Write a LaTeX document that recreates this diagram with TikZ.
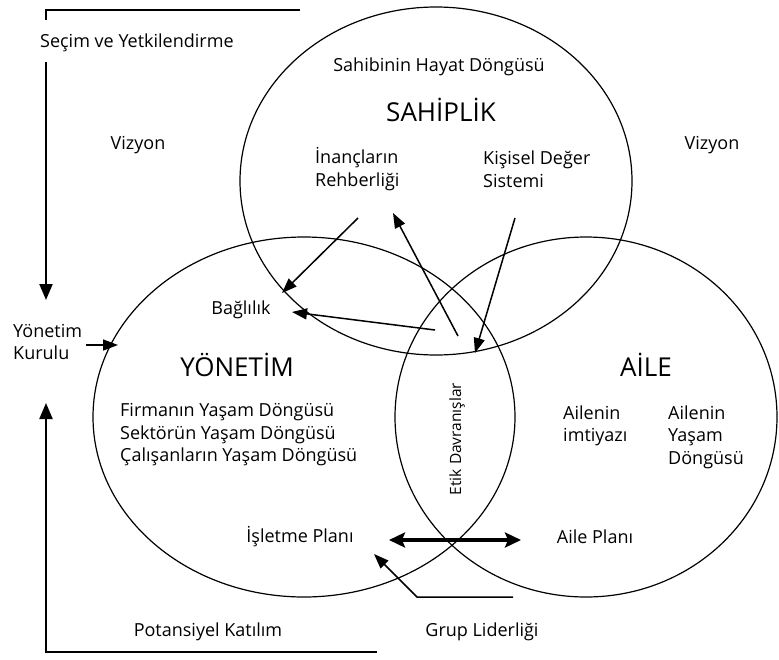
\documentclass[tikz,border=0pt]{standalone}
\usepackage{fontspec}
\setmainfont{Open Sans}
\usetikzlibrary{arrows.meta}

\begin{document}
\begin{tikzpicture}[x=1pt,y=1pt,yscale=-1,
    lbl/.style={font=\fontsize{18}{22.5}\selectfont, inner sep=0pt},
    title/.style={font=\fontsize{26}{28}\selectfont, inner sep=0pt},
    ring/.style={line width=1.2pt},
    frame/.style={line width=2.2pt, -{Triangle[length=16pt,width=13pt,fill=black]}},
    link/.style={line width=1.5pt, -{Triangle[length=15pt,width=11pt,fill=black]}},
    both/.style={line width=4pt, {Stealth[length=16pt,width=15pt,inset=3pt,fill=black]}-{Stealth[length=16pt,width=15pt,inset=3pt,fill=black]}}]
	\useasboundingbox (0,0) rectangle (779,659);

	\draw[ring] (436,181) ellipse [x radius=196, y radius=174];
	\draw[ring] (304,417) ellipse [x radius=211, y radius=180];
	\draw[ring] (586,417) ellipse [x radius=191, y radius=180];

	\node[lbl, anchor=west] (secim) at (40,43) {Seçim ve Yetkilendirme};
	\node[lbl] (vizyon L) at (138,145) {Vizyon};
	\node[lbl] (vizyon R) at (712,145) {Vizyon};
	\node[lbl] (hayat) at (439,67) {Sahibinin Hayat Döngüsü};
	\node[title] (sahiplik) at (441,110) {SAHİPLİK};
	\node[lbl, anchor=west, align=left] (inanc) at (315,169) {İnançların\\Rehberliği};
	\node[lbl, anchor=west, align=left] (kisisel) at (483,169) {Kişisel Değer\\Sistemi};
	\node[lbl] (baglilik) at (241,310) {Bağlılık};
	\node[lbl, anchor=west, align=left] (kurul) at (13,342) {Yönetim\\Kurulu};
	\node[title] (yonetim) at (237,365) {YÖNETİM};
	\node[lbl, anchor=west, align=left] (firma) at (120,435) {Firmanın Yaşam Döngüsü\\Sektörün Yaşam Döngüsü\\Çalışanların Yaşam Döngüsü};
	\node[title] (aile) at (646,365) {AİLE};
	\node[lbl, anchor=west, align=left] (imtiyaz) at (563,426) {Ailenin\\imtiyazı};
	\node[lbl, anchor=west, align=left] (aile dongu) at (668,437) {Ailenin\\Yaşam\\Döngüsü};
	\node[lbl, font=\fontsize{15.5}{18}\selectfont, rotate=90] (etik) at (457,439) {Etik Davranışlar};
	\node[lbl] (isletme) at (300,537) {İşletme Planı};
	\node[lbl] (aile plan) at (595,537) {Aile Planı};
	\node[lbl] (potansiyel) at (208,632) {Potansiyel Katılım};
	\node[lbl] (grup) at (482,632) {Grup Liderliği};

	\coordinate (sol ust) at (46,20);
	\coordinate (ust uc) at (300,10);
	\coordinate (secim alt) at (46,62);
	\coordinate (kurul ust) at (46,300);
	\coordinate (alt uc) at (377,652);
	\coordinate (kurul alt) at (46,403);
	\coordinate (kurul giris) at (118,345);
	\coordinate (inanc cikis) at (358,218);
	\coordinate (baglilik ust) at (282,293);
	\coordinate (inanc uc) at (393,213);
	\coordinate (etik ust) at (458,336);
	\coordinate (etik sol) at (435,330);
	\coordinate (baglilik sag) at (292,312);
	\coordinate (kisisel cikis) at (515,218);
	\coordinate (etik sag) at (475,353);
	\coordinate (plan sol) at (389,540);
	\coordinate (plan sag) at (521,540);
	\coordinate (grup sag) at (513,597);
	\coordinate (grup kose) at (417,597);
	\coordinate (isletme alt) at (374,554);

	\draw[line width=2.2pt] (sol ust) |- (ust uc);
	\draw[frame] (secim alt) -- (kurul ust);
	\draw[frame] (alt uc) -| (kurul alt);
	\draw[link] ([xshift=4pt]kurul.east |- kurul giris) -- (kurul giris);
	\draw[link] (inanc cikis) -- (baglilik ust);
	\draw[link, {Triangle[length=15pt,width=11pt,fill=black]}-] (inanc uc) -- (etik ust);
	\draw[link] (etik sol) -- (baglilik sag);
	\draw[link] (kisisel cikis) -- (etik sag);
	\draw[both] (plan sol) -- (plan sag);
	\draw[link] (grup sag) -- (grup kose) -- (isletme alt);
\end{tikzpicture}
\end{document}
